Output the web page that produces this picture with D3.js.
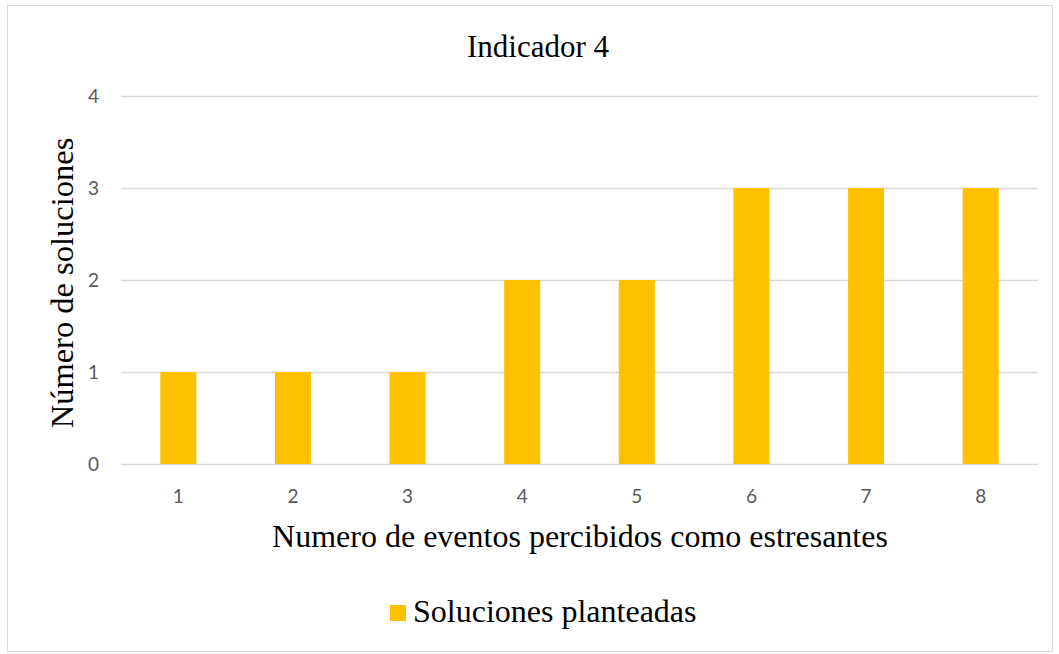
<!DOCTYPE html>
<html>
<head>
<meta charset="utf-8">
<script src="https://cdnjs.cloudflare.com/ajax/libs/d3/7.8.5/d3.min.js"></script>
<style>
  html, body { margin: 0; padding: 0; background: #fff; }
  svg { display: block; }
</style>
</head>
<body>
<svg id="chart" width="1059" height="654"></svg>
<script>
// Chart data
const categories = ["1", "2", "3", "4", "5", "6", "7", "8"];
const seriesName = "Soluciones planteadas";
const values = [1, 1, 1, 2, 2, 3, 3, 3];
const yTicks = [0, 1, 2, 3, 4];
const title = "Indicador 4";
const xTitle = "Numero de eventos percibidos como estresantes";
const yTitle = "Número de soluciones";

const margin = { left: 121, right: 1038, top: 96, bottom: 464 };
const barColor = "#FFC000";
const serif = "'Liberation Serif', 'Times New Roman', serif";
const sans = "Lato, 'Open Sans', sans-serif";

const svg = d3.select("#chart");

// outer frame
svg.append("rect")
  .attr("x", 7.5).attr("y", 5.5)
  .attr("width", 1045).attr("height", 646)
  .attr("fill", "#fff").attr("stroke", "#d9d9d9").attr("stroke-width", 1);

const x = d3.scaleBand().domain(categories).range([margin.left, margin.right]).padding(0);
const y = d3.scaleLinear().domain([0, 4]).range([margin.bottom, margin.top]);

// gridlines
svg.append("g").selectAll("line").data(yTicks).join("line")
  .attr("x1", margin.left).attr("x2", margin.right)
  .attr("y1", d => Math.round(y(d)) + 0.5).attr("y2", d => Math.round(y(d)) + 0.5)
  .attr("stroke", "#d9d9d9").attr("stroke-width", 1.3);

// y axis labels
const yAxis = d3.axisLeft(y).tickValues(yTicks).tickFormat(d3.format("d")).tickSize(0).tickPadding(0);
const gy = svg.append("g").attr("transform", `translate(${margin.left - 22},0)`).call(yAxis);
gy.select(".domain").remove();
gy.selectAll("text").attr("font-family", sans).attr("font-size", 19).attr("fill", "#595959");

// bars
const barW = x.bandwidth() * 0.314;
svg.append("g").selectAll("rect").data(values).join("rect")
  .attr("x", (d, i) => x(categories[i]) + (x.bandwidth() - barW) / 2)
  .attr("y", d => y(d))
  .attr("width", barW)
  .attr("height", d => y(0) - y(d))
  .attr("fill", barColor);

// x axis labels
const xAxis = d3.axisBottom(x).tickSize(0).tickPadding(0);
const gx = svg.append("g").attr("transform", `translate(0,${margin.bottom + 25})`).call(xAxis);
gx.select(".domain").remove();
gx.selectAll("text").attr("font-family", sans).attr("font-size", 19).attr("fill", "#595959");

// title
svg.append("text").attr("x", 538).attr("y", 57)
  .attr("text-anchor", "middle").attr("font-family", serif).attr("font-size", 31)
  .attr("fill", "#000").text(title);

// axis titles
svg.append("text").attr("x", 580).attr("y", 547)
  .attr("text-anchor", "middle").attr("font-family", serif).attr("font-size", 32)
  .attr("fill", "#000").text(xTitle);

svg.append("text")
  .attr("transform", `translate(73,283) rotate(-90)`)
  .attr("text-anchor", "middle").attr("font-family", serif).attr("font-size", 32.5)
  .attr("fill", "#000").text(yTitle);

// legend
const lg = svg.append("g");
lg.append("rect").attr("x", 390).attr("y", 605).attr("width", 16).attr("height", 16).attr("fill", barColor);
lg.append("text").attr("x", 413).attr("y", 622)
  .attr("font-family", serif).attr("font-size", 32).attr("fill", "#000").text(seriesName);
</script>
</body>
</html>
